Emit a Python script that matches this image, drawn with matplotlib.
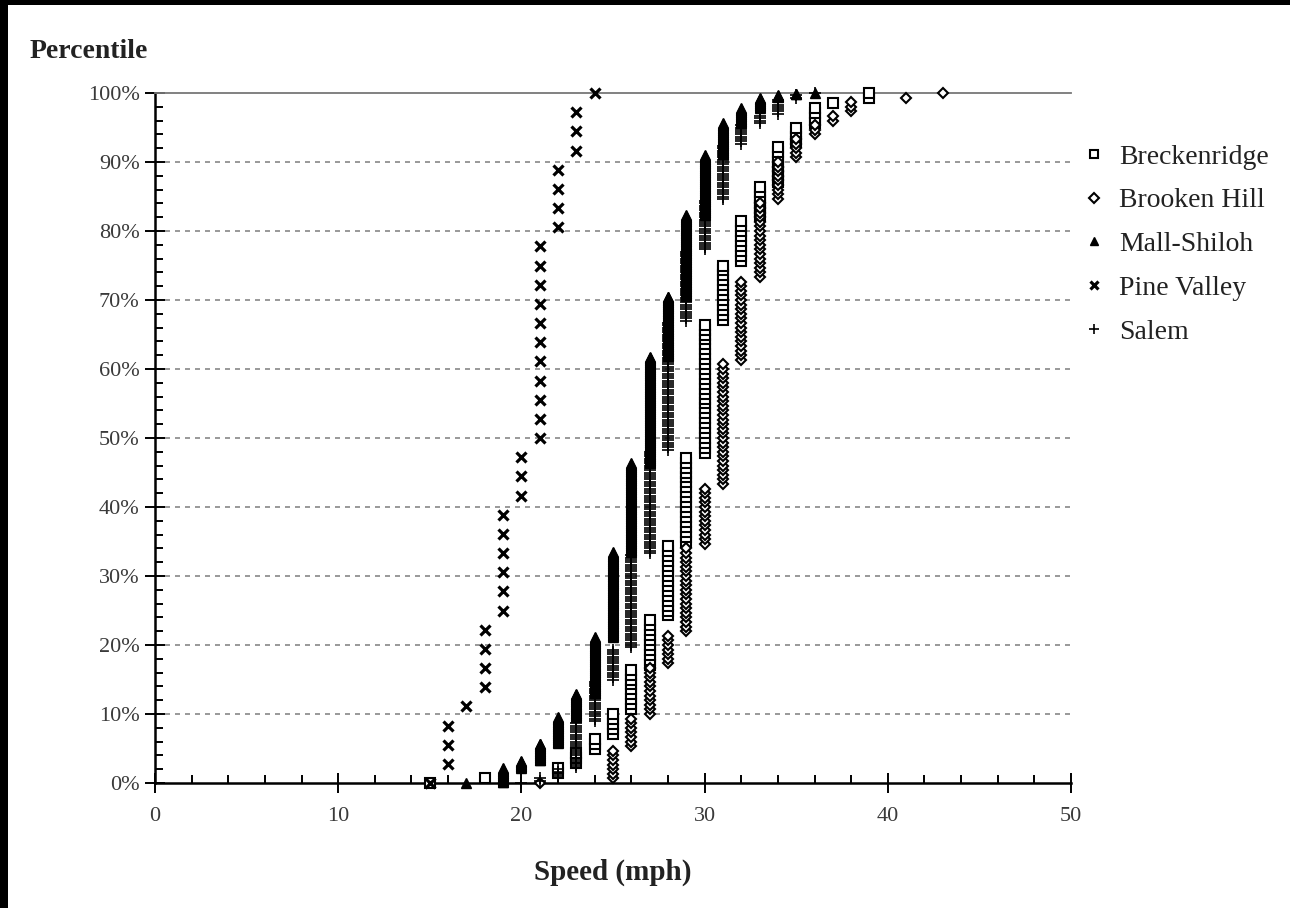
import numpy as np
import matplotlib
matplotlib.use("Agg")
import matplotlib.pyplot as plt
from matplotlib.ticker import MultipleLocator, FuncFormatter
from matplotlib.patches import Rectangle

# ---- data: number of observed vehicles at each speed (mph) per site ----
site_names = ["Breckenridge", "Brooken Hill", "Mall-Shiloh", "Pine Valley", "Salem"]

speeds_breck = [15, 18, 22, 23, 24, 25, 26, 27, 28, 29, 30, 31, 32, 33, 34, 35, 36, 37, 39]
counts_breck = [1, 1, 2, 3, 3, 5, 9, 10, 15, 18, 27, 12, 9, 7, 8, 4, 4, 1, 2]

speeds_brooken = [21, 25, 26, 27, 28, 29, 30, 31, 32, 33, 34, 35, 36, 37, 38, 41, 43]
counts_brooken = [1, 7, 7, 11, 7, 19, 13, 27, 18, 17, 9, 5, 3, 2, 3, 1, 1]

speeds_mall = [17, 19, 20, 21, 22, 23, 24, 25, 26, 27, 28, 29, 30, 31, 32, 33, 34, 35, 36]
counts_mall = [1, 21, 11, 25, 38, 34, 82, 123, 129, 154, 87, 118, 87, 46, 22, 15, 4, 2, 1]

speeds_pine = [15, 16, 17, 18, 19, 20, 21, 22, 23, 24]
counts_pine = [1, 3, 1, 4, 6, 3, 11, 4, 3, 1]

speeds_salem = [20, 21, 22, 23, 24, 25, 26, 27, 28, 29, 30, 31, 32, 33, 34, 35, 36]
counts_salem = [1, 2, 4, 20, 18, 14, 41, 45, 56, 31, 22, 24, 9, 4, 7, 2, 1]

x_ticks = [0, 10, 20, 30, 40, 50]
y_ticks = [0, 0.1, 0.2, 0.3, 0.4, 0.5, 0.6, 0.7, 0.8, 0.9, 1.0]

series = [
    (speeds_breck, counts_breck),
    (speeds_brooken, counts_brooken),
    (speeds_mall, counts_mall),
    (speeds_pine, counts_pine),
    (speeds_salem, counts_salem),
]
styles = [
    dict(marker="s", mfc="white", mec="black", ms=6.5, mew=1.5),
    dict(marker="D", mfc="white", mec="black", ms=5.6, mew=1.5),
    dict(marker="^", mfc="black", mec="black", ms=7.5, mew=1.0),
    dict(marker="x", mfc="black", mec="black", ms=7.5, mew=2.3),
    dict(marker="+", mfc="black", mec="black", ms=8.5, mew=1.2),
]

plt.rcParams["font.family"] = ["Liberation Serif", "DejaVu Serif"]

fig = plt.figure(figsize=(12.9, 9.08), dpi=100)
fig.patch.set_facecolor("white")
ax = fig.add_axes([155 / 1290, 1 - 783 / 908, 916 / 1290, 690 / 908])

for (sp, ct), name, st in zip(series, site_names, styles):
    obs = np.repeat(np.array(sp, dtype=float), ct)
    n = len(obs)
    pct = np.arange(n) / (n - 1)
    ax.plot(obs, pct, linestyle="none", label=name, clip_on=False, zorder=3, **st)

ax.set_xlim(0, 50)
ax.set_ylim(0, 1.0)
ax.set_xticks(x_ticks)
ax.set_yticks(y_ticks)
ax.xaxis.set_minor_locator(MultipleLocator(2))
ax.yaxis.set_minor_locator(MultipleLocator(0.02))
ax.yaxis.set_major_formatter(FuncFormatter(lambda v, p: f"{int(round(v * 100))}%"))
ax.xaxis.set_major_formatter(FuncFormatter(lambda v, p: f"{int(v)}"))

ax.tick_params(axis="both", which="major", direction="inout", length=14, width=1.4,
               labelsize=16, labelcolor="#3a3a3a", color="black")
ax.tick_params(axis="x", which="major", pad=10)
ax.tick_params(axis="y", which="major", pad=4)
ax.tick_params(axis="both", which="minor", direction="in", length=6, width=1.4, color="black")

ax.spines["right"].set_visible(False)
ax.spines["top"].set_color("#777777")
ax.spines["top"].set_linewidth(1.3)
ax.spines["left"].set_linewidth(1.8)
ax.spines["bottom"].set_linewidth(1.8)

for yv in y_ticks[1:-1]:
    ax.axhline(yv, color="#888888", linestyle=(0, (3, 3)), linewidth=1.2, zorder=1)

ax.set_xlabel("Speed (mph)", fontsize=21, fontweight="bold", color="#222222", labelpad=24)
fig.text(30 / 1290, 1 - 52 / 908, "Percentile", fontsize=20, fontweight="bold",
         color="#222222", ha="left", va="center")

fig.legend(loc="upper left", bbox_to_anchor=(1072 / 1290, 1 - 133 / 908), frameon=False,
           fontsize=20, handlelength=0.8, handletextpad=0.5, labelspacing=0.66,
           borderaxespad=0, labelcolor="#222222", markerscale=0.85)

# black frame on the left and top edges
fig.patches.append(Rectangle((0, 0), 8 / 1290, 1, transform=fig.transFigure,
                             facecolor="black", edgecolor="none", zorder=10))
fig.patches.append(Rectangle((0, 1 - 5 / 908), 1, 5 / 908, transform=fig.transFigure,
                             facecolor="black", edgecolor="none", zorder=10))

fig.savefig("out.png", dpi=100, facecolor="white")
